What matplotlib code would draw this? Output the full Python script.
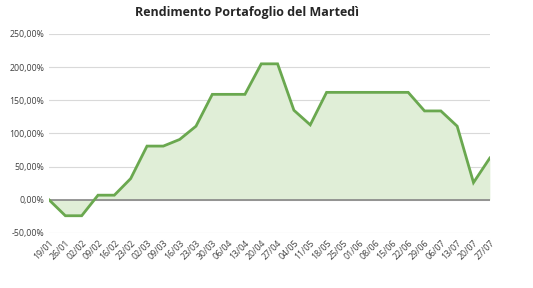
import matplotlib.pyplot as plt
import numpy

plt.rcParams['font.family'] = ['Open Sans', 'DejaVu Sans']

dates = ['19/01', '26/01', '02/02', '09/02', '16/02', '23/02', '02/03', '09/03',
         '16/03', '23/03', '30/03', '06/04', '13/04', '20/04', '27/04', '04/05',
         '11/05', '18/05', '25/05', '01/06', '08/06', '15/06', '22/06', '29/06',
         '06/07', '13/07', '20/07', '27/07']
rendimento = [0, -24, -24, 7, 7, 32, 81, 81,
              91, 111, 159, 159, 159, 205, 205, 135,
              113, 162, 162, 162, 162, 162, 162, 134,
              134, 111, 26, 63]
yticks = [-50, 0, 50, 100, 150, 200, 250]

x = numpy.arange(len(dates))
y = numpy.array(rendimento)

fig = plt.figure(figsize=(5.33, 2.88), dpi=100)
ax = fig.add_axes([0.092, 0.191, 0.827, 0.691])

ax.fill_between(x, 0, y, color='#e0eed7', linewidth=0)
ax.plot(x, y, color='#6aa84f', linewidth=2.0, solid_joinstyle='miter')
ax.axhline(0, color='#868686', linewidth=1.2, zorder=1.5)

ax.set_xlim(0, len(dates) - 1)
ax.set_ylim(-50, 250)
ax.set_yticks(yticks)
ax.set_yticklabels(['{:.2f}%'.format(v).replace('.', ',') for v in yticks])
ax.set_xticks(x)
ax.set_xticklabels(dates, rotation=45, ha='right', rotation_mode='anchor')
ax.tick_params(axis='both', length=0, labelsize=6.3, labelcolor='#404040')
ax.tick_params(axis='x', pad=4)
ax.grid(axis='y', color='#d9d9d9', linewidth=0.8)
ax.set_axisbelow(True)
for s in ax.spines.values():
    s.set_visible(False)

fig.text(0.463, 0.955, 'Rendimento Portafoglio del Martedì', ha='center', va='center',
         fontsize=9, fontweight='bold', color='#262626')

fig.savefig('out.png', dpi=100)
